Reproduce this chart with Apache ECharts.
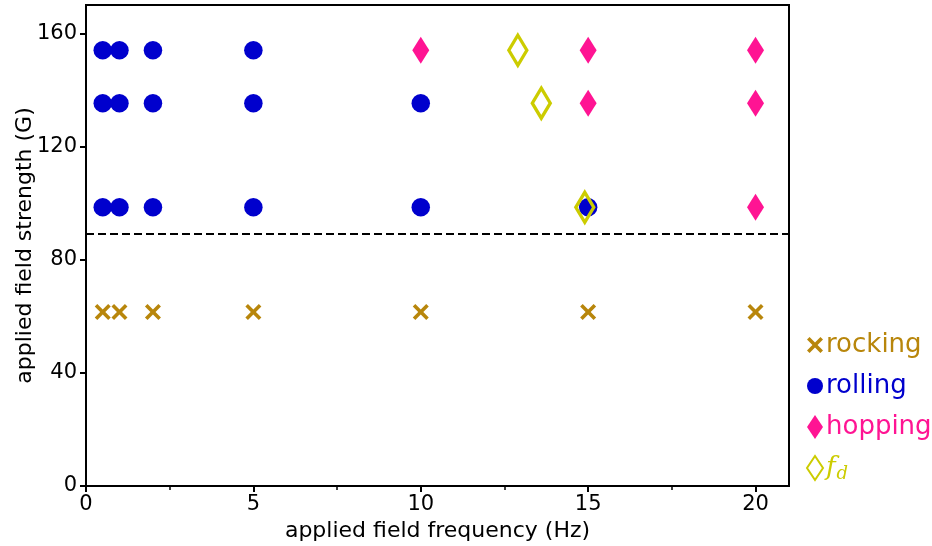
<!DOCTYPE html>
<html>
<head>
<meta charset="utf-8">
<script src="https://cdn.jsdelivr.net/npm/echarts@6/dist/echarts.min.js"></script>
<style>
  html, body { margin: 0; padding: 0; background: #fff; }
  #chart { width: 932px; height: 546px; }
</style>
</head>
<body>
<div id="chart"></div>
<script>
const rocking = [[0.5, 61.5], [1, 61.5], [2, 61.5], [5, 61.5], [10, 61.5], [15, 61.5], [20, 61.5]]
const rolling = [
  [0.5, 154], [1, 154], [2, 154], [5, 154],
  [0.5, 135.3], [1, 135.3], [2, 135.3], [5, 135.3], [10, 135.3],
  [0.5, 98.5], [1, 98.5], [2, 98.5], [5, 98.5], [10, 98.5], [15, 98.5]
]
const hopping = [[10, 154], [15, 154], [20, 154], [15, 135.3], [20, 135.3], [20, 98.5]]
const fd = [[12.9, 154], [13.6, 135.3], [14.9, 98.5]]
const threshold = 89.3
const xTicks = [0, 5, 10, 15, 20]
const xMinorTicks = [2.5, 7.5, 12.5, 17.5]
const yTicks = [0, 40, 80, 120, 160]

const colors = {
  rocking: '#b8860b',
  rolling: '#0000cd',
  hopping: '#ff1493',
  fd: '#cccc00'
}
const font = 'DejaVu Sans'
const crossPath = 'path://M1.6,0 L5,3.4 L8.4,0 L10,1.6 L6.6,5 L10,8.4 L8.4,10 L5,6.6 L1.6,10 L0,8.4 L3.4,5 L0,1.6 Z'

const chart = echarts.init(document.getElementById('chart'), null, { renderer: 'canvas' })

const option = {
  animation: false,
  grid: {
    left: 86, right: 143, top: 5, bottom: 60,
    outerBoundsMode: 'none', containLabel: false,
    show: true, borderColor: '#000', borderWidth: 2
  },
  xAxis: [
    {
      type: 'value', min: 0, max: 21,
      name: 'applied field frequency (Hz)', nameLocation: 'middle', nameGap: 34,
      nameMoveOverlap: false,
      nameTextStyle: { fontFamily: font, fontSize: 22, color: '#000' },
      splitLine: { show: false },
      axisLine: { show: true, onZero: false, lineStyle: { color: '#000', width: 2 } },
      axisTick: { show: true, length: 6, customValues: xTicks, lineStyle: { color: '#000', width: 2 } },
      axisLabel: { customValues: xTicks, fontFamily: font, fontSize: 21, color: '#000', margin: 8 }
    },
    {
      type: 'value', min: 0, max: 21, position: 'bottom',
      splitLine: { show: false },
      axisLine: { show: false },
      axisTick: { show: true, length: 4, customValues: xMinorTicks, lineStyle: { color: '#000', width: 1.5 } },
      axisLabel: { show: false }
    }
  ],
  yAxis: {
    type: 'value', min: 0, max: 170,
    name: 'applied field strength (G)', nameLocation: 'middle', nameGap: 50, nameRotate: 90,
    nameMoveOverlap: false,
    nameTextStyle: { fontFamily: font, fontSize: 22, color: '#000' },
    splitLine: { show: false },
    axisLine: { show: true, onZero: false, lineStyle: { color: '#000', width: 2 } },
    axisTick: { show: true, length: 6, customValues: yTicks, lineStyle: { color: '#000', width: 2 } },
    axisLabel: { customValues: yTicks, fontFamily: font, fontSize: 21, color: '#000', margin: 9 }
  },
  legend: {
    orient: 'vertical', left: 801, top: 327, itemGap: 15,
    itemWidth: 16, itemHeight: 24,
    textStyle: {
      fontFamily: font, fontSize: 26, padding: [0, 0, 0, -2],
      rich: {
        f: { fontFamily: 'DejaVu Serif', fontStyle: 'italic', fontSize: 26, color: colors.fd },
        d: { fontFamily: 'DejaVu Serif', fontStyle: 'italic', fontSize: 18, color: colors.fd, padding: [12, 0, 0, 1] }
      }
    },
    formatter: name => name === 'fd' ? '{f|f}{d|d}' : name,
    data: [
      { name: 'rocking', textStyle: { color: colors.rocking } },
      { name: 'rolling', textStyle: { color: colors.rolling } },
      { name: 'hopping', textStyle: { color: colors.hopping } },
      { name: 'fd', textStyle: { color: colors.fd } }
    ]
  },
  series: [
    {
      name: 'rocking', type: 'scatter', data: rocking,
      symbol: crossPath, symbolSize: 16,
      itemStyle: { color: colors.rocking, opacity: 1 },
      markLine: {
        silent: true, symbol: 'none', label: { show: false },
        lineStyle: { color: '#000', type: [8, 4], width: 2, opacity: 1 },
        data: [{ yAxis: threshold }]
      }
    },
    {
      name: 'rolling', type: 'scatter', data: rolling,
      symbol: 'circle', symbolSize: 18.5,
      itemStyle: { color: colors.rolling, opacity: 1 }
    },
    {
      name: 'hopping', type: 'scatter', data: hopping,
      symbol: 'diamond', symbolSize: [17, 27],
      itemStyle: { color: colors.hopping, opacity: 1 }
    },
    {
      name: 'fd', type: 'scatter', data: fd, z: 5,
      symbol: 'diamond', symbolSize: [18, 30],
      itemStyle: { color: 'rgba(0,0,0,0)', borderColor: colors.fd, borderWidth: 3.5, opacity: 1 }
    }
  ]
}

chart.setOption(option)
</script>
</body>
</html>
